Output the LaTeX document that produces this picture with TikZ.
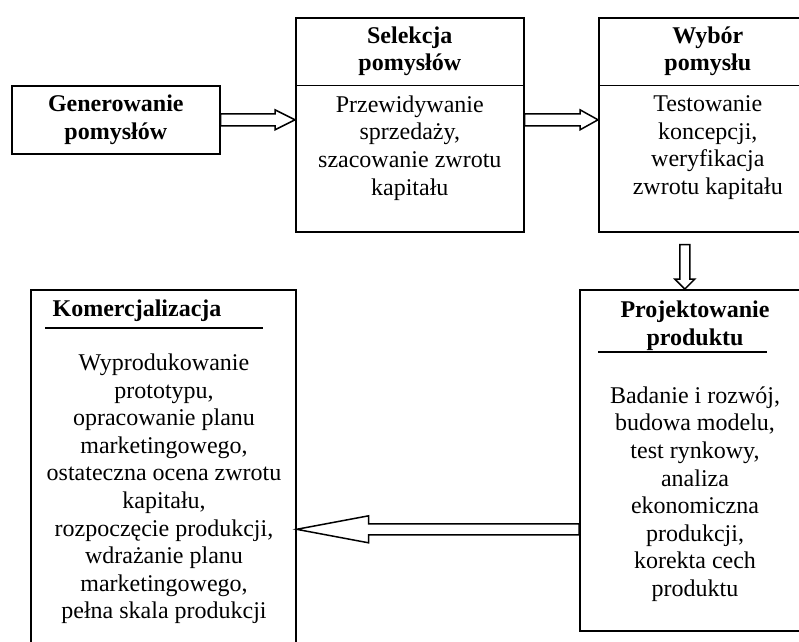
\documentclass[tikz,border=0pt]{standalone}
\usepackage{fontspec}
\setmainfont{Liberation Serif}
\usepackage{tikz}
\usetikzlibrary{positioning,calc}
\newcommand{\diafont}{\fontsize{24}{27.6}\selectfont}
\newcommand{\fatarrow}[5]{% tail, tip, shaft half width, head half width, head length
  \coordinate (fa-h) at ($(#2)!#5!(#1)$);
  \draw[fatline] ($(#1)!#3!90:(#2)$) -- ($(fa-h)!#3!90:(#2)$) -- ($(fa-h)!#4!90:(#2)$) -- (#2)
    -- ($(fa-h)!#4!-90:(#2)$) -- ($(fa-h)!#3!-90:(#2)$) -- ($(#1)!#3!-90:(#2)$) -- cycle;}
\tikzset{stagebox/.style={shape=rectangle, draw=black, line width=1.6pt, inner sep=0pt, anchor=north west}}
\tikzset{headtext/.style={font=\diafont\bfseries, align=center, inner sep=0pt}}
\tikzset{bodytext/.style={font=\diafont, align=center, inner sep=0pt}}
\tikzset{rule/.style={line width=1.6pt}}
\tikzset{fatline/.style={draw=black, fill=white, line width=1.5pt, line join=miter}}

\begin{document}
\begin{tikzpicture}[x=1pt, y=-1pt]
\useasboundingbox (0,0) rectangle (799,641);
\clip (0,0) rectangle (799,641);
%Nodes
\node[stagebox, minimum width=208pt, minimum height=68pt, headtext] (gen) at (11,85) {Generowanie\\pomysłów};
\node[stagebox, minimum width=228pt, minimum height=214pt] (sel) at (295,17) {};
\node[stagebox, minimum width=218pt, minimum height=214pt] (wyb) at (598,17) {};
\node[stagebox, minimum width=232pt, minimum height=341pt] (proj) at (579,289) {};
\node[stagebox, minimum width=265pt, minimum height=400pt] (kom) at (30,289) {};
\node[headtext, minimum width=228pt, minimum height=68pt, anchor=north] (selhead) at (sel.north) {Selekcja\\pomysłów};
\node[headtext, minimum width=218pt, minimum height=68pt, anchor=north] (wybhead) at (wyb.north) {Wybór\\pomysłu};
\node[bodytext, below=10pt of selhead] (selbody) {Przewidywanie\\sprzedaży,\\szacowanie zwrotu\\kapitału};
\node[bodytext, below=10pt of wybhead] (wybbody) {Testowanie\\koncepcji,\\weryfikacja\\zwrotu kapitału};
\node[headtext] (projhead) at (695,326) {Projektowanie\\produktu};
\node[bodytext] (projbody) at (695,494) {Badanie i rozwój,\\budowa modelu,\\test rynkowy,\\analiza\\ekonomiczna\\produkcji,\\korekta cech\\produktu};
\node[headtext] (komhead) at (137,311) {Komercjalizacja};
\node[bodytext] (kombody) at (164,489) {Wyprodukowanie\\prototypu,\\opracowanie planu\\marketingowego,\\ostateczna ocena zwrotu\\kapitału,\\rozpoczęcie produkcji,\\wdrażanie planu\\marketingowego,\\pełna skala produkcji};
%Rules
\draw[rule] (selhead.south west) -- (selhead.south east);
\draw[rule] (wybhead.south west) -- (wybhead.south east);
\draw[rule] (598,352) -- (767,352);
\draw[rule] (45,328) -- (263,328);
%Lines
\coordinate (a1) at (gen.east -| sel.west);
\fatarrow{gen.east}{a1}{6pt}{10pt}{20pt}
\coordinate (a2s) at (sel.east |- gen.east);
\coordinate (a2e) at (wyb.west |- gen.east);
\fatarrow{a2s}{a2e}{6pt}{10pt}{18pt}
\coordinate (a3s) at ([xshift=-23pt, yshift=-12pt]wyb.south);
\coordinate (a3e) at (a3s |- proj.north);
\fatarrow{a3s}{a3e}{5pt}{10pt}{10pt}
\coordinate (a4s) at ([yshift=-69pt]proj.west);
\coordinate (a4e) at (a4s -| kom.east);
\fatarrow{a4s}{a4e}{5.5pt}{13.5pt}{72pt}
\end{tikzpicture}
\end{document}
